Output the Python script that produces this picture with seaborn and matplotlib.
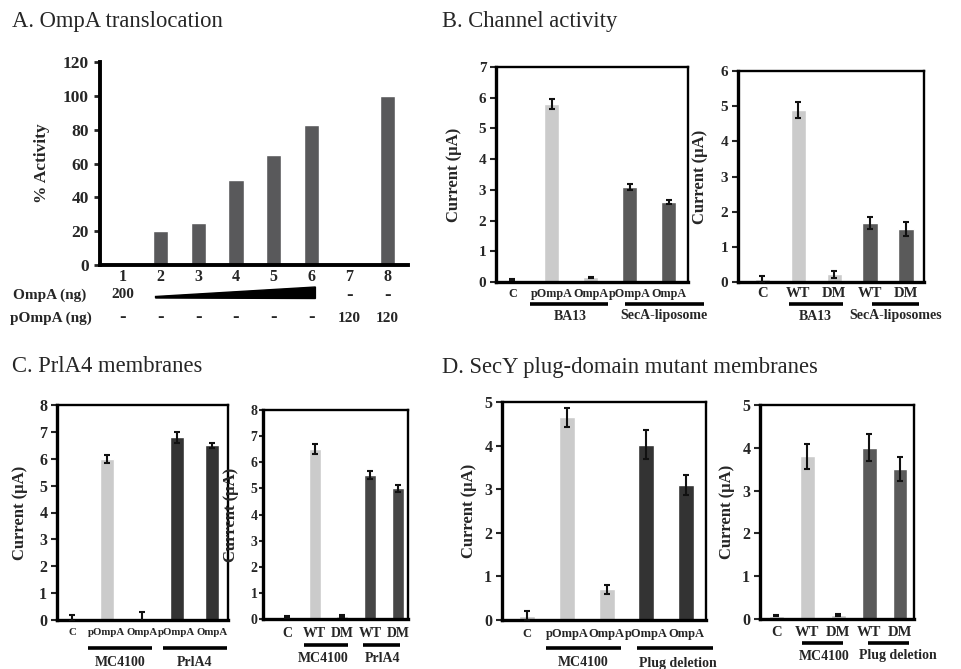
import matplotlib
matplotlib.use("Agg")
import matplotlib.pyplot as plt
import matplotlib.transforms as mtransforms
from matplotlib.patches import Polygon
import numpy as np
import pandas as pd
import seaborn as sns

sns.set_theme(style="white")
plt.rcParams['font.family'] = ['Liberation Serif', 'DejaVu Serif']
plt.rcParams['font.weight'] = 'bold'

W, H = 962, 669

# ---------------- data ----------------
a_lanes = ['1', '2', '3', '4', '5', '6', '7', '8']
a_activity = [0, 20, 25, 50, 65, 82.5, 0, 100]
a_ompa_row = ['200', '', '', '', '', '', '-', '-']
a_pompa_row = ['-', '-', '-', '-', '-', '-', '120', '120']

b1_labels = ['C', 'pOmpA', 'OmpA', 'pOmpA', 'OmpA']
b1_values = [0.08, 5.8, 0.15, 3.1, 2.6]
b1_errors = [0.03, 0.17, 0.02, 0.1, 0.07]
b1_groups = ['BA13', 'SecA-liposome']

b2_labels = ['C', 'WT', 'DM', 'WT', 'DM']
b2_values = [0.08, 4.9, 0.22, 1.68, 1.52]
b2_errors = [0.1, 0.23, 0.1, 0.17, 0.2]
b2_groups = ['BA13', 'SecA-liposomes']

c1_labels = ['C', 'pOmpA', 'OmpA', 'pOmpA', 'OmpA']
c1_values = [0.08, 6.0, 0.08, 6.8, 6.5]
c1_errors = [0.1, 0.15, 0.2, 0.2, 0.1]
c1_groups = ['MC4100', 'PrlA4']

c2_labels = ['C', 'WT', 'DM', 'WT', 'DM']
c2_values = [0.08, 6.5, 0.12, 5.5, 5.0]
c2_errors = [0.03, 0.18, 0.03, 0.15, 0.12]
c2_groups = ['MC4100', 'PrlA4']

d1_labels = ['C', 'pOmpA', 'OmpA', 'pOmpA', 'OmpA']
d1_values = [0.1, 4.65, 0.7, 4.02, 3.1]
d1_errors = [0.1, 0.22, 0.1, 0.33, 0.23]
d1_groups = ['MC4100', 'Plug deletion']

d2_labels = ['C', 'WT', 'DM', 'WT', 'DM']
d2_values = [0.08, 3.8, 0.1, 4.0, 3.5]
d2_errors = [0.02, 0.3, 0.02, 0.32, 0.28]
d2_groups = ['MC4100', 'Plug deletion']

LIGHT = '#cbcbcb'

fig = plt.figure(figsize=(W / 100, H / 100), dpi=100)


def add_ax(left, top, right, bottom):
    return fig.add_axes([left / W, 1 - bottom / H, (right - left) / W, (bottom - top) / H])


def fy(py):
    return 1 - py / H


def bar_panel(box, labels, values, errors, colors, ymax, xlim, width,
              tick_fs, cat_fs, cat_pad, ylabel_px, groups, spans, line_y,
              label_x, label_y, group_fs, ytick_pad=3, ytick_len=4):
    ax = add_ax(*box)
    df = pd.DataFrame({'id': [str(i) for i in range(len(values))], 'val': values})
    sns.barplot(data=df, x='id', y='val', hue='id', palette=colors, legend=False,
                ax=ax, width=width, saturation=1, errorbar=None)
    ax.errorbar(np.arange(len(values)), values, yerr=errors, fmt='none',
                ecolor='#111111', elinewidth=1.5, capsize=2.5, capthick=1.5, zorder=5)
    ax.set_xlim(*xlim)
    ax.set_ylim(0, ymax)
    ax.set_yticks(range(0, ymax + 1))
    ax.set_xticks(range(len(values)))
    ax.set_xticklabels(labels, fontsize=cat_fs, fontweight='bold')
    ax.tick_params(axis='x', length=0, pad=cat_pad)
    ax.tick_params(axis='y', direction='out', length=ytick_len, width=1.5, pad=ytick_pad,
                   labelsize=tick_fs, left=True)
    for lab in ax.get_yticklabels():
        lab.set_fontweight('bold')
    ax.set_xlabel('')
    ax.set_ylabel('Current (µA)', fontsize=12, fontweight='bold')
    ax.yaxis.set_label_coords((ylabel_px - box[0]) / (box[2] - box[0]), 0.5)
    for s in ['left', 'bottom']:
        ax.spines[s].set_linewidth(2.4)
        ax.spines[s].set_color('black')
    for s in ['top', 'right']:
        ax.spines[s].set_linewidth(1.7)
        ax.spines[s].set_color('black')
    tr = mtransforms.blended_transform_factory(ax.transData, fig.transFigure)
    for g, (x0, x1), lx in zip(groups, spans, label_x):
        ax.plot([x0, x1], [fy(line_y), fy(line_y)], color='black', lw=2.6,
                transform=tr, clip_on=False, solid_capstyle='butt')
        ax.text(lx, fy(label_y), g, transform=tr, ha='center', va='center',
                fontsize=group_fs, fontweight='bold')
    return ax


# ---------------- Panel A ----------------
axA = add_ax(100, 62, 408, 265)
dfa = pd.DataFrame({'lane': a_lanes, 'act': a_activity})
sns.barplot(data=dfa, x='lane', y='act', color='#59595b', saturation=1,
            width=0.4, errorbar=None, ax=axA)
axA.set_xlim(-0.6, 7.55)
axA.set_ylim(0, 120)
axA.set_yticks(range(0, 121, 20))
axA.tick_params(axis='y', direction='out', length=4, width=2, labelsize=12.5, left=True, pad=4)
axA.tick_params(axis='x', length=0, labelsize=11.5, pad=3)
for lab in axA.get_yticklabels() + axA.get_xticklabels():
    lab.set_fontweight('bold')
axA.set_xlabel('')
axA.set_ylabel('% Activity', fontsize=12.5, fontweight='bold')
axA.yaxis.set_label_coords((50 - 100) / 308, 0.5)
axA.spines['top'].set_visible(False)
axA.spines['right'].set_visible(False)
axA.spines['left'].set_linewidth(2.8)
axA.spines['bottom'].set_linewidth(2.8)
axA.spines['left'].set_color('black')
axA.spines['bottom'].set_color('black')

trA = mtransforms.blended_transform_factory(axA.transData, fig.transFigure)
fig.text(13 / W, fy(295), 'OmpA (ng)', fontsize=11, fontweight='bold', va='center', ha='left')
fig.text(10 / W, fy(318), 'pOmpA (ng)', fontsize=11, fontweight='bold', va='center', ha='left')
for i, (t1, t2) in enumerate(zip(a_ompa_row, a_pompa_row)):
    if t1:
        axA.text(i, fy(295), t1, transform=trA, ha='center', va='center',
                 fontsize=14 if t1 == '-' else 11, fontweight='bold')
    axA.text(i, fy(318), t2, transform=trA, ha='center', va='center',
             fontsize=14 if t2 == '-' else 11, fontweight='bold')
wedge = Polygon([(0.87, fy(296.5)), (0.87, fy(298)), (5.1, fy(298.5)), (5.1, fy(287))],
                closed=True, transform=trA, color='black', clip_on=False)
axA.add_patch(wedge)

# ---------------- Panel B ----------------
bar_panel((496, 67, 688, 282), b1_labels, b1_values, b1_errors,
          [LIGHT, LIGHT, LIGHT, '#5a5a5a', '#5a5a5a'], 7, (-0.42, 4.49), 0.39,
          11, 8.7, 4, 462, b1_groups, [(0.46, 2.44), (2.87, 4.9)], 304,
          [1.47, 3.87], 316, 10)
bar_panel((738, 71, 924, 282), b2_labels, b2_values, b2_errors,
          [LIGHT, LIGHT, LIGHT, '#5a5a5a', '#5a5a5a'], 6, (-0.67, 4.5), 0.42,
          11, 10.5, 3.5, 708, b2_groups, [(0.75, 2.25), (3.06, 4.36)], 304,
          [1.47, 3.7], 316, 10)

# ---------------- Panel C ----------------
bar_panel((57, 405, 228, 620), c1_labels, c1_values, c1_errors,
          [LIGHT, LIGHT, LIGHT, '#333333', '#333333'], 8, (-0.43, 4.46), 0.4,
          11.5, 7.8, 6, 28, c1_groups, [(0.46, 2.29), (2.6, 4.43)], 648,
          [1.37, 3.51], 662, 10)
bar_panel((263, 410, 408, 619), c2_labels, c2_values, c2_errors,
          [LIGHT, LIGHT, LIGHT, '#464646', '#464646'], 8, (-0.86, 4.36), 0.43,
          10, 10, 6, 239, c2_groups, [(0.61, 2.2), (2.74, 4.07)], 645,
          [1.3, 3.46], 658, 10, ytick_pad=1, ytick_len=3)

# ---------------- Panel D ----------------
bar_panel((502, 402, 706, 620), d1_labels, d1_values, d1_errors,
          [LIGHT, LIGHT, LIGHT, '#333333', '#333333'], 5, (-0.63, 4.5), 0.4,
          11.5, 9, 6, 477, d1_groups, [(0.48, 2.36), (2.77, 4.68)], 648,
          [1.41, 3.8], 663, 10)
bar_panel((760, 405, 914, 619), d2_labels, d2_values, d2_errors,
          [LIGHT, LIGHT, LIGHT, '#5a5a5a', '#5a5a5a'], 5, (-0.52, 4.45), 0.48,
          11.5, 10.5, 5, 735, d2_groups, [(0.84, 2.16), (2.97, 4.29)], 643,
          [1.55, 3.94], 656, 10)

# ---------------- titles ----------------
for x, y, t in [(12, 22, 'A. OmpA translocation'), (442, 22, 'B. Channel activity'),
                (12, 367, 'C. PrlA4 membranes'), (442, 367, 'D. SecY plug-domain mutant membranes')]:
    fig.text(x / W, fy(y), t, fontsize=16.3, fontweight='normal', ha='left', va='center')

fig.savefig('out.png', dpi=100)
